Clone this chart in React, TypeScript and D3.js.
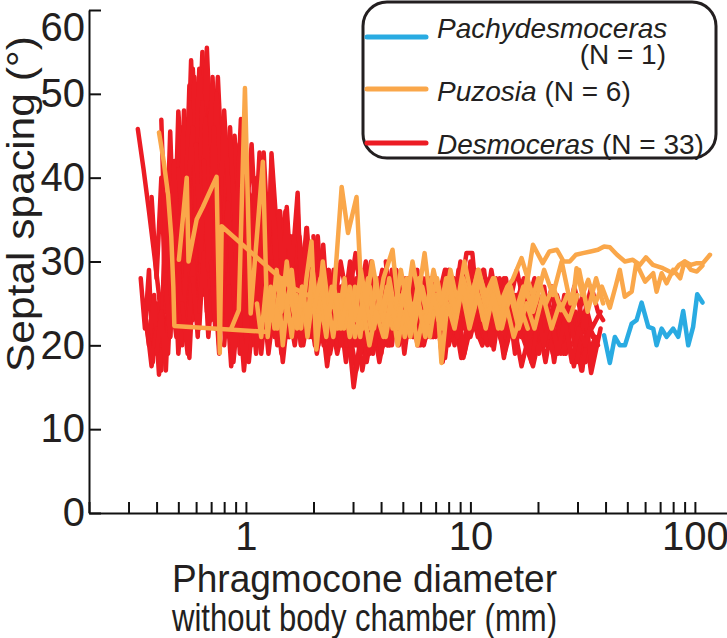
import React, { useEffect, useRef } from "react";
import * as d3 from "d3";

// each point: [phragmocone diameter (mm), septal spacing (deg)]
type Pt = [number, number];

const BLUE = "#29abe2";
const ORANGE = "#faa74a";
const RED = "#ec1c24";

// --- Pachydesmoceras ---
const pachy01: Pt[] = [
  [39.4, 21.2], [41.8, 17.9], [44.0, 21.0], [46.3, 20.0], [48.8, 20.0], [52.3, 22.6], [55.0, 23.0],
  [57.9, 25.1], [62.0, 22.2], [65.2, 22.0], [67.5, 20.0], [71.1, 22.0], [74.8, 21.0], [80.0, 22.0],
  [84.3, 21.0], [88.7, 24.1], [93.4, 20.0], [98.2, 22.2], [102.4, 26.1], [108.2, 25.1],
];

// --- Puzosia ---
const puz01: Pt[] = [
  [0.41, 45.4], [0.43, 42], [0.45, 38], [0.465, 33], [0.475, 27], [0.48, 22.3], [1.24, 21.6],
  [1.29, 27], [1.34, 22], [1.4, 26], [1.46, 20], [1.53, 25], [1.6, 21], [1.68, 26], [1.76, 22],
  [1.86, 28], [1.96, 32.4], [2.06, 19.5], [2.16, 25], [2.28, 21], [2.41, 27], [2.56, 22], [2.72, 26],
  [2.9, 21], [3.1, 25], [3.32, 22], [3.56, 27], [3.82, 23], [4.1, 28], [4.5, 31.4], [4.8, 24],
  [5.2, 28], [5.6, 22], [6.1, 27], [6.6, 23], [7.1, 26], [7.43, 17.9], [7.9, 25], [8.5, 22],
  [9.2, 27], [10.0, 23], [10.9, 28], [11.8, 24], [12.8, 27], [13.9, 23], [15.1, 26], [16.4, 22],
  [17.8, 25], [19.3, 22], [21.0, 26], [23.0, 22], [25.0, 25], [27.5, 23], [30.0, 26],
];
const puz02: Pt[] = [
  [0.503, 30.2], [0.545, 40], [0.555, 30], [0.603, 35], [0.643, 36.5], [0.74, 40.1], [0.765, 19.1],
  [0.78, 34.2], [1.57, 27], [2.62, 24.2], [2.75, 28], [2.9, 22], [3.06, 27], [3.23, 21], [3.4, 26],
  [3.6, 22], [3.8, 28], [4.0, 23], [4.25, 27], [4.5, 22], [4.8, 26], [5.1, 21], [5.45, 25], [5.8, 20],
  [6.2, 24], [6.6, 21], [7.05, 26], [7.5, 22], [8.0, 27], [8.6, 23], [9.2, 28], [9.9, 24], [10.6, 27],
  [11.4, 23], [12.3, 26], [13.3, 22], [14.4, 25], [15.6, 21], [17.0, 24], [18.0, 22],
];
const puz03: Pt[] = [
  [0.86, 22], [0.93, 24.2], [0.99, 50.7], [1.05, 23.8], [1.19, 41.9], [1.25, 21], [1.31, 26],
  [1.38, 22], [1.45, 28], [1.52, 24], [1.6, 29], [1.69, 23], [1.78, 27], [1.88, 21], [1.99, 26],
  [2.1, 23], [2.22, 28], [2.35, 24], [2.48, 27], [2.67, 38.9], [2.85, 33.4], [3.11, 37.7], [3.3, 24],
  [3.5, 28], [3.72, 22], [3.95, 26], [4.2, 21], [4.46, 25], [4.74, 20], [5.05, 24], [5.4, 21],
  [5.8, 26], [6.2, 22], [6.7, 27], [7.2, 23], [7.8, 28], [8.4, 24], [9.1, 27], [9.9, 22], [10.8, 26],
  [11.7, 23], [12.7, 27], [13.8, 22], [15.0, 26], [16.3, 23], [17.7, 27], [19.0, 24], [20.0, 26],
];
const puz04: Pt[] = [
  [1.12, 25], [1.17, 21], [1.23, 27], [1.3, 23], [1.37, 29], [1.44, 24], [1.52, 30], [1.6, 25],
  [1.69, 22], [1.78, 27], [1.88, 23], [1.98, 29], [2.09, 24], [2.2, 30], [2.32, 25], [2.45, 21],
  [2.59, 26], [2.74, 22], [2.9, 27], [3.07, 23], [3.25, 29], [3.44, 25], [3.65, 30], [3.87, 26],
  [4.1, 23], [4.35, 28], [4.62, 24], [4.9, 29], [5.2, 25], [5.52, 30], [5.87, 26], [6.25, 31],
  [6.65, 25], [7.1, 28], [7.6, 24], [8.15, 29], [8.75, 25], [9.4, 30], [10.1, 26], [10.9, 29],
  [11.8, 25], [12.8, 28], [13.9, 24], [15.1, 27], [16.4, 23], [17.9, 28], [19.5, 25], [21.3, 29],
  [23.3, 26], [25.5, 30], [27.9, 25], [30.5, 29], [33.3, 24], [36.3, 28], [39.0, 25],
];
const puz05: Pt[] = [
  [4.0, 24], [4.3, 27], [4.65, 23], [5.0, 26], [5.4, 22], [5.85, 25], [6.3, 21], [6.8, 26],
  [7.35, 23], [7.95, 27], [8.6, 24], [9.3, 28], [10.0, 25], [10.8, 29], [11.7, 26], [12.6, 28],
  [13.6, 25], [14.6, 27], [15.4, 27.8], [16.9, 30.4], [18.0, 28], [19.0, 32], [21.0, 29.8],
  [22.5, 31.2], [24.3, 31.4], [26.0, 30], [27.7, 30], [29.5, 30.8], [31.7, 31], [34.3, 31.2],
  [37.0, 31.4], [39.4, 31.8], [41.8, 31.7], [45.0, 30.8], [48.8, 30], [52.9, 30.2], [56.9, 29.6],
  [60.5, 30.5], [65.0, 29.6], [72.0, 29.2], [79.8, 28.6], [85.0, 29.6], [90.2, 30], [96.0, 29.6],
  [102, 29.8], [108.6, 29.8], [116.7, 30.8],
];
const puz06: Pt[] = [
  [2.0, 24], [2.15, 28], [2.3, 23], [2.47, 27], [2.65, 22], [2.85, 26], [3.06, 21], [3.3, 25],
  [3.55, 20], [3.8, 24], [4.1, 21], [4.4, 25], [4.73, 22], [5.1, 27], [5.5, 23], [5.9, 28],
  [6.35, 24], [6.85, 29], [7.4, 25], [8.0, 28], [8.6, 24], [9.3, 27], [10.0, 23], [10.8, 26],
  [11.7, 22], [12.6, 26], [13.6, 23], [14.7, 27], [15.9, 24], [17.2, 27], [18.6, 25], [20.1, 28],
  [21.7, 25], [23.4, 27], [25.3, 24.2], [27.0, 26], [28.5, 25], [29.7, 29.2], [31.5, 26],
  [33.5, 27.8], [36.0, 25], [38.5, 27], [41.8, 24.5], [44.5, 27.2], [46.3, 29], [48.7, 25.8],
  [52.3, 26.4], [54.8, 29.8], [60.0, 27.6], [65.2, 28.6], [67.5, 26.4], [71.1, 28.6], [74.8, 27.4],
  [80.0, 29], [86.0, 28], [90.0, 30], [96.0, 29], [102, 28.8], [108, 29.5],
];

// --- Desmoceras ---
const des01: Pt[] = [
  [0.33, 45.8], [0.35, 41], [0.37, 36], [0.39, 31], [0.41, 26], [0.43, 19], [0.46, 27], [0.49, 21],
  [0.52, 34], [0.55, 24], [0.58, 42], [0.62, 27], [0.66, 38], [0.7, 23], [0.74, 33], [0.79, 22],
  [0.84, 30], [0.9, 21], [0.96, 29], [1.02, 23], [1.09, 31], [1.16, 24], [1.24, 28], [1.33, 22],
  [1.42, 27], [1.52, 23], [1.62, 26], [1.7, 22],
];
const des02: Pt[] = [
  [0.34, 28], [0.355, 22], [0.37, 29], [0.385, 18], [0.4, 25], [0.42, 17], [0.44, 30], [0.46, 21],
  [0.49, 39], [0.52, 26], [0.55, 47], [0.58, 31], [0.61, 50], [0.64, 35], [0.67, 46], [0.71, 30],
  [0.75, 41], [0.79, 26], [0.84, 36], [0.9, 24],
];
const des03: Pt[] = [
  [0.35, 25], [0.37, 20], [0.39, 26], [0.41, 16.5], [0.43, 23], [0.45, 19], [0.48, 35], [0.51, 24],
  [0.54, 44], [0.57, 28], [0.6, 48], [0.63, 33], [0.67, 52], [0.71, 36], [0.75, 45], [0.8, 29],
  [0.85, 40], [0.9, 26], [0.95, 37], [1.01, 24], [1.07, 34], [1.14, 23], [1.21, 32], [1.29, 22],
  [1.37, 30], [1.46, 21], [1.56, 28], [1.67, 22], [1.79, 27], [1.92, 21], [2.06, 26], [2.22, 20],
  [2.4, 25],
];
const des04: Pt[] = [
  [0.36, 23], [0.38, 17.5], [0.4, 22], [0.42, 20], [0.44, 38], [0.47, 26], [0.5, 44], [0.53, 30],
  [0.56, 51], [0.6, 36], [0.64, 55], [0.68, 38], [0.72, 47], [0.76, 31], [0.81, 43], [0.86, 28],
  [0.92, 38], [0.98, 25], [1.04, 35], [1.11, 26], [1.18, 33], [1.26, 24], [1.35, 31], [1.44, 23],
  [1.54, 30], [1.65, 24], [1.78, 28], [1.92, 22], [2.08, 27], [2.25, 21], [2.45, 26], [2.7, 20],
  [2.95, 25], [3.25, 19], [3.6, 24], [4.0, 21], [4.5, 25],
];
const des05: Pt[] = [
  [0.38, 37.7], [0.4, 28], [0.42, 40], [0.44, 24], [0.46, 38], [0.49, 27], [0.52, 46], [0.55, 30],
  [0.58, 53], [0.62, 37], [0.66, 49], [0.7, 34], [0.74, 44], [0.79, 30], [0.84, 41], [0.89, 27],
  [0.95, 36], [1.01, 25], [1.08, 34], [1.15, 24], [1.2, 30],
];
const des06: Pt[] = [
  [0.4, 19], [0.42, 24], [0.44, 17], [0.46, 29], [0.49, 22], [0.52, 37], [0.55, 25], [0.58, 45],
  [0.61, 29], [0.65, 50], [0.69, 32], [0.73, 42], [0.78, 27], [0.83, 39], [0.88, 25], [0.94, 34],
  [1.0, 22], [1.07, 30], [1.14, 21], [1.22, 28], [1.31, 23], [1.41, 29], [1.52, 22], [1.64, 27],
  [1.77, 21], [1.92, 25], [2.1, 20], [2.3, 26], [2.55, 19], [2.8, 24], [3.1, 17], [3.45, 23],
  [3.85, 20], [4.3, 26], [4.8, 21], [5.4, 25], [6.0, 20], [6.8, 24], [7.6, 21], [8.0, 23],
];
const des07: Pt[] = [
  [0.42, 46.9], [0.44, 29], [0.46, 45.5], [0.48, 31], [0.5, 47.9], [0.54, 34], [0.57, 54], [0.6, 38],
  [0.63, 47], [0.67, 33], [0.71, 50], [0.75, 35], [0.8, 44], [0.85, 30], [0.9, 40], [0.96, 28],
  [1.02, 37], [1.09, 27], [1.16, 35], [1.24, 26], [1.32, 33], [1.41, 25], [1.51, 31], [1.62, 24],
  [1.74, 29], [1.87, 23], [2.01, 28], [2.17, 22], [2.35, 27], [2.55, 21], [2.77, 26], [3.0, 22],
];
const des08: Pt[] = [
  [0.44, 27], [0.46, 21], [0.48, 30], [0.5, 19], [0.53, 28], [0.56, 18.5], [0.59, 31], [0.62, 22],
  [0.66, 36], [0.7, 24], [0.74, 39], [0.78, 26], [0.83, 37], [0.88, 23], [0.93, 33], [0.99, 21],
  [1.05, 31], [1.12, 22], [1.19, 29], [1.27, 21], [1.36, 27], [1.46, 18], [1.57, 26], [1.69, 22],
  [1.82, 28], [1.96, 21], [2.12, 26], [2.3, 17.5], [2.5, 25], [2.72, 20], [2.97, 27], [3.25, 21],
  [3.57, 25], [3.93, 18], [4.33, 24], [4.78, 21], [5.3, 26], [5.9, 20], [6.6, 24], [7.4, 21],
  [8.3, 25], [9.3, 18.5], [10.4, 24], [11.6, 21], [12.9, 25], [14.0, 22],
];
const des09: Pt[] = [
  [0.46, 33], [0.48, 42], [0.5, 27], [0.53, 48], [0.56, 33], [0.59, 52], [0.63, 36], [0.67, 55.5],
  [0.71, 39], [0.75, 52], [0.8, 36], [0.85, 46], [0.9, 31], [0.96, 42], [1.02, 29], [1.09, 39],
  [1.16, 28], [1.24, 36], [1.33, 27], [1.42, 33], [1.52, 26], [1.6, 30],
];
const des10: Pt[] = [
  [0.48, 23], [0.5, 30], [0.52, 20], [0.55, 34], [0.58, 23], [0.61, 40], [0.64, 26], [0.68, 44],
  [0.72, 29], [0.76, 41], [0.81, 27], [0.86, 38], [0.91, 24], [0.97, 35], [1.03, 23], [1.1, 33],
  [1.17, 21], [1.25, 31], [1.34, 22], [1.43, 30], [1.53, 21], [1.64, 28], [1.76, 20], [1.89, 27],
  [2.03, 21], [2.19, 28], [2.37, 20], [2.57, 26], [2.79, 18], [3.03, 25], [3.3, 20], [3.6, 27],
  [3.95, 21], [4.35, 26], [4.8, 20], [5.3, 25], [6.0, 22],
];
const des11: Pt[] = [
  [0.5, 41], [0.53, 33], [0.56, 49], [0.59, 37], [0.62, 53], [0.66, 40], [0.7, 49], [0.74, 35],
  [0.79, 46], [0.84, 33], [0.89, 43], [0.95, 31], [1.01, 40], [1.08, 30], [1.15, 38], [1.23, 29],
  [1.31, 36], [1.4, 28], [1.5, 34], [1.6, 27], [1.72, 32], [1.85, 25], [2.0, 30], [2.17, 24],
  [2.36, 28], [2.57, 22], [2.8, 27], [3.05, 21], [3.35, 26], [3.7, 22], [4.1, 27], [4.55, 21],
  [5.05, 26], [5.6, 22], [6.25, 27], [7.0, 21], [7.8, 26], [8.7, 22], [9.7, 27], [10.8, 21],
  [12.0, 26], [13.4, 22], [15.0, 27], [16.8, 21], [18.8, 25], [20.5, 22], [22.0, 24],
];
const des12: Pt[] = [
  [0.52, 25], [0.55, 19], [0.58, 30], [0.61, 21], [0.64, 35], [0.68, 24], [0.72, 31], [0.76, 20],
  [0.81, 28], [0.86, 17.5], [0.92, 26], [0.98, 20], [1.04, 29], [1.11, 19], [1.18, 27], [1.26, 20],
  [1.35, 26], [1.44, 19], [1.54, 25], [1.65, 20], [1.77, 26], [1.9, 21], [2.0, 24],
];
const des13: Pt[] = [
  [0.55, 38], [0.58, 46], [0.61, 32], [0.64, 49], [0.67, 34], [0.71, 52], [0.75, 37], [0.79, 47],
  [0.84, 33], [0.89, 45], [0.95, 32], [1.01, 41], [1.08, 29], [1.15, 43], [1.23, 30], [1.31, 38],
  [1.4, 28], [1.5, 36], [1.61, 27], [1.73, 33], [1.86, 26], [2.0, 31], [2.16, 24], [2.34, 29],
  [2.54, 23], [2.76, 28], [3.0, 22], [3.27, 27], [3.57, 21], [3.9, 26], [4.27, 22], [4.68, 27],
  [5.13, 23], [5.63, 28], [6.2, 22], [6.85, 27], [7.55, 23], [8.35, 28], [9.2, 22], [10.1, 26],
  [11.0, 23],
];
const des14: Pt[] = [
  [0.58, 28], [0.61, 22], [0.64, 33], [0.67, 24], [0.71, 37], [0.75, 25], [0.79, 32], [0.84, 21],
  [0.89, 30], [0.94, 19], [1.0, 27], [1.06, 20], [1.13, 29], [1.2, 22], [1.28, 31], [1.37, 23],
  [1.46, 29], [1.56, 21], [1.67, 27], [1.8, 22], [1.94, 29], [2.09, 23], [2.26, 27], [2.45, 21],
  [2.66, 26], [2.9, 20], [3.16, 25], [3.45, 18], [3.77, 24], [4.13, 20], [4.53, 25], [4.98, 21],
  [5.48, 26], [6.05, 22], [6.7, 27], [7.4, 21], [8.2, 26], [9.1, 18.5], [10.1, 25], [11.2, 21],
  [12.5, 27], [14.0, 22], [15.6, 26], [17.4, 21], [19.4, 25], [21.6, 18], [24.0, 25], [26.7, 21],
  [28.5, 24], [30.0, 22],
];
const des15: Pt[] = [
  [0.6, 44], [0.63, 30], [0.66, 47], [0.7, 33], [0.74, 50], [0.78, 34], [0.82, 44], [0.87, 29],
  [0.92, 41], [0.98, 27], [1.04, 38], [1.1, 26], [1.17, 36], [1.25, 25], [1.33, 34], [1.42, 26],
  [1.51, 32], [1.61, 24], [1.72, 30], [1.84, 23], [1.97, 29], [2.12, 22], [2.28, 27], [2.46, 21],
  [2.66, 26], [2.88, 20], [3.12, 25], [3.4, 21], [3.7, 24], [4.0, 22],
];
const des16: Pt[] = [
  [0.62, 24], [0.65, 31], [0.68, 21], [0.72, 29], [0.76, 19], [0.8, 32], [0.85, 22], [0.9, 35],
  [0.95, 24], [1.01, 33], [1.07, 22], [1.14, 30], [1.21, 21], [1.29, 28], [1.38, 20], [1.47, 27],
  [1.57, 21], [1.68, 26], [1.8, 20], [1.93, 25], [2.07, 19], [2.23, 25], [2.41, 20], [2.61, 26],
  [2.83, 21], [3.07, 27], [3.34, 22], [3.64, 28], [3.97, 23], [4.34, 27], [4.75, 22], [5.2, 26],
  [5.7, 21], [6.3, 26], [6.95, 22], [7.7, 28], [8.5, 23], [9.4, 27], [10.4, 22], [11.5, 26],
  [12.7, 21], [14.0, 25], [15.5, 21], [17.0, 24],
];
const des17: Pt[] = [
  [0.65, 42], [0.68, 29], [0.72, 46], [0.76, 32], [0.8, 48], [0.85, 35], [0.9, 44], [0.95, 31],
  [1.0, 42], [1.06, 30], [1.12, 40], [1.19, 29], [1.27, 38], [1.35, 28], [1.44, 35], [1.53, 27],
  [1.63, 33], [1.74, 26], [1.85, 30], [1.9, 27],
];
const des18: Pt[] = [
  [0.7, 30], [0.73, 22], [0.77, 34], [0.81, 24], [0.86, 31], [0.91, 20], [0.97, 28], [1.03, 18],
  [1.1, 26], [1.17, 19], [1.25, 27], [1.34, 21], [1.43, 28], [1.53, 22], [1.64, 27], [1.76, 21],
  [1.89, 26], [2.03, 20], [2.19, 25], [2.37, 19], [2.57, 24], [2.79, 20], [3.03, 24], [3.3, 17],
  [3.6, 23], [3.93, 20], [4.3, 25], [4.7, 21], [5.15, 26], [5.65, 22], [6.2, 27], [6.8, 21],
  [7.5, 26], [8.3, 22], [9.2, 27], [10.2, 23], [11.3, 28], [12.5, 23], [13.9, 27], [15.4, 22],
  [17.1, 26], [19.0, 21], [21.1, 25], [23.4, 20], [26.0, 24], [28.9, 17.5], [32.1, 23], [34.5, 16.7],
  [38.0, 22],
];
const des19: Pt[] = [
  [0.75, 40], [0.79, 28], [0.83, 37], [0.88, 26], [0.93, 36], [0.99, 25], [1.05, 35], [1.12, 25],
  [1.19, 33], [1.27, 24], [1.36, 32], [1.45, 25], [1.55, 31], [1.66, 24], [1.78, 29], [1.91, 23],
  [2.05, 28], [2.21, 22], [2.39, 27], [2.59, 21], [2.81, 26], [3.05, 20], [3.32, 25], [3.62, 21],
  [3.95, 26], [4.32, 20], [4.73, 25], [5.18, 21], [5.68, 26], [6.25, 22], [6.9, 27], [7.6, 23],
  [8.3, 26], [9.0, 23],
];
const des20: Pt[] = [
  [0.8, 20], [0.84, 27], [0.88, 18], [0.93, 25], [0.98, 17], [1.04, 24], [1.1, 20], [1.17, 27],
  [1.25, 21], [1.33, 28], [1.42, 22], [1.52, 29], [1.63, 23], [1.75, 28], [1.88, 22], [2.02, 27],
  [2.18, 21], [2.36, 26], [2.56, 20], [2.78, 25], [3.02, 15], [3.28, 22], [3.57, 19], [3.9, 24],
  [4.27, 20], [4.68, 25], [5.13, 21], [5.63, 24], [6.2, 20], [6.85, 25], [7.55, 21], [8.35, 24],
  [9.25, 19], [10.2, 23], [11.3, 20], [12.5, 24], [13.9, 20], [15.4, 25], [17.1, 21], [19.0, 17.5],
  [21.1, 23], [23.5, 20], [26.0, 22],
];
const des21: Pt[] = [
  [0.85, 45], [0.9, 33], [0.95, 47], [1.0, 34], [1.06, 44], [1.12, 31], [1.19, 40], [1.26, 29],
  [1.3, 42.9], [1.42, 28], [1.51, 36], [1.6, 27], [1.7, 33], [1.81, 26], [1.93, 31], [2.06, 25],
  [2.2, 29], [2.35, 23], [2.52, 28], [2.7, 22], [2.9, 27], [3.12, 21], [3.36, 26], [3.62, 22],
  [3.9, 25], [4.2, 21], [4.55, 24], [5.0, 22],
];
const des22: Pt[] = [
  [0.9, 23], [0.95, 30], [1.0, 21], [1.06, 28], [1.12, 20], [1.19, 26], [1.26, 19], [1.34, 25],
  [1.42, 20], [1.51, 27], [1.61, 21], [1.72, 28], [1.84, 22], [1.97, 29], [2.11, 23], [2.27, 28],
  [2.45, 22], [2.65, 27], [2.87, 23], [3.11, 28], [3.38, 22], [3.68, 27], [4.01, 19], [4.38, 26],
  [4.79, 22], [5.25, 27], [5.76, 23], [6.33, 28], [6.97, 24], [7.7, 29], [8.5, 20], [9.4, 28],
  [10.4, 24], [11.5, 29], [12.7, 19.5], [14.1, 28], [15.6, 24], [17.3, 28], [19.2, 19], [21.3, 27],
  [23.6, 18], [26.2, 26], [29.1, 21], [32.3, 24], [35.0, 21],
];
const des23: Pt[] = [
  [1.0, 37], [1.06, 27], [1.12, 35], [1.19, 26], [1.26, 34], [1.34, 25], [1.42, 32], [1.51, 24],
  [1.61, 30], [1.72, 23], [1.84, 29], [1.97, 22], [2.11, 28], [2.27, 21], [2.45, 27], [2.65, 20],
  [2.87, 26], [3.11, 20], [3.38, 25], [3.68, 19], [4.01, 24], [4.38, 20], [4.79, 26], [5.25, 21],
  [5.76, 27], [6.33, 22], [6.97, 28], [7.7, 23], [8.5, 27], [9.4, 22], [10.4, 26], [11.5, 21],
  [12.3, 25], [13.0, 22],
];
const des24: Pt[] = [
  [1.1, 24], [1.16, 31], [1.23, 23], [1.3, 30], [1.38, 22], [1.46, 29], [1.55, 21], [1.65, 27],
  [1.76, 20], [1.88, 26], [2.01, 21], [2.15, 27], [2.31, 22], [2.49, 28], [2.69, 23], [2.91, 30],
  [3.15, 24], [3.42, 30], [3.72, 24], [4.05, 29], [4.42, 23], [4.83, 28], [5.29, 22], [5.8, 27],
  [6.37, 21], [7.0, 26], [7.7, 22], [8.5, 27], [9.4, 19], [10.4, 26], [11.5, 22], [12.7, 27],
  [14.1, 18.5], [15.6, 26], [17.3, 22], [19.2, 27], [21.3, 21], [23.6, 25], [26.2, 20], [29.1, 24],
  [31.5, 17], [33.0, 22],
];
const des25: Pt[] = [
  [1.2, 43], [1.26, 32], [1.3, 42], [1.36, 29], [1.42, 36], [1.5, 27], [1.58, 33], [1.67, 25],
  [1.77, 31], [1.88, 24], [2.0, 30], [2.13, 23], [2.28, 29], [2.45, 24], [2.64, 30], [2.85, 25],
  [3.08, 31], [3.33, 24], [3.61, 30], [3.92, 23], [4.26, 28], [4.64, 22], [5.06, 27], [5.53, 21],
  [6.05, 26], [6.63, 21], [7.28, 25], [8.0, 20], [8.8, 24], [9.6, 31], [10.2, 31], [10.7, 25],
  [11.8, 22], [13.0, 26], [14.3, 21], [15.8, 25], [17.4, 21], [19.0, 24], [20.0, 22],
];
const des26: Pt[] = [
  [1.4, 36], [1.46, 27], [1.52, 36.5], [1.59, 28], [1.7, 38.2], [1.76, 26], [1.86, 34], [1.97, 24],
  [2.09, 33], [2.22, 23], [2.37, 28], [2.54, 22], [2.73, 27], [2.94, 21], [3.17, 26], [3.42, 20],
  [3.7, 25], [4.0, 21], [4.34, 26], [4.72, 22], [5.14, 27], [5.6, 23], [6.12, 28], [6.7, 22],
  [7.35, 27], [8.07, 21], [8.87, 26], [9.76, 21], [10.8, 26], [11.9, 22], [13.1, 27], [14.5, 22],
  [16.0, 26], [17.7, 21], [19.6, 26], [21.7, 20], [24.0, 25], [26.6, 19], [29.4, 24], [32.6, 18],
  [36.0, 21],
];
const des27: Pt[] = [
  [1.7, 36], [1.78, 26], [1.87, 34], [1.97, 24], [2.08, 32], [2.2, 22], [2.33, 28], [2.48, 21],
  [2.64, 26], [2.82, 20], [3.02, 25], [3.24, 19], [3.48, 24], [3.75, 20], [4.05, 25], [4.38, 21],
  [4.75, 26], [5.16, 22], [5.62, 27], [6.13, 23], [6.7, 28], [7.33, 24], [8.03, 29], [8.81, 24],
  [9.67, 28], [10.6, 23], [11.7, 27], [12.9, 22], [14.2, 26], [15.7, 21], [17.3, 25], [19.1, 20],
  [21.1, 24], [23.3, 19], [25.7, 23], [28.0, 20],
];
const des28: Pt[] = [
  [2.0, 33], [2.1, 24], [2.21, 32], [2.33, 23], [2.46, 29], [2.6, 22], [2.76, 28], [2.93, 21],
  [3.12, 27], [3.33, 20], [3.56, 26], [3.81, 21], [4.09, 27], [4.4, 22], [4.74, 28], [5.12, 23],
  [5.54, 29], [6.0, 24], [6.51, 28], [7.08, 23], [7.71, 27], [8.4, 22], [9.17, 26], [10.0, 21],
  [10.9, 25], [11.9, 20], [13.0, 24], [14.2, 19], [15.5, 23], [16.9, 17.5], [18.5, 22], [20.2, 19],
  [22.1, 24], [24.2, 20], [26.5, 25], [29.0, 21], [31.7, 26], [34.7, 22], [38.0, 24],
];
const des29: Pt[] = [
  [2.5, 29], [2.63, 22], [2.77, 27], [2.92, 20], [3.08, 26], [3.26, 21], [3.46, 27], [3.68, 22],
  [3.92, 28], [4.18, 23], [4.47, 29], [4.79, 24], [5.14, 28], [5.53, 22], [5.96, 27], [6.43, 21],
  [6.95, 26], [7.52, 18], [8.15, 25], [8.85, 21], [9.62, 26], [10.5, 22], [11.4, 27], [12.4, 20],
  [13.5, 28], [14.7, 24], [16.1, 29], [17.6, 24], [19.3, 28], [21.1, 23], [23.1, 27], [25.3, 19],
  [27.7, 26], [30.3, 21], [32.0, 23],
];
const des30: Pt[] = [
  [3.2, 24], [3.37, 29], [3.55, 22], [3.75, 28], [3.97, 21], [4.21, 27], [4.47, 20], [4.76, 26],
  [5.08, 19], [5.43, 25], [5.82, 20], [6.25, 26], [6.72, 21], [7.24, 27], [7.81, 22], [8.44, 28],
  [9.14, 23], [9.91, 29], [10.8, 24], [11.7, 28], [12.8, 23], [13.9, 27], [15.2, 22], [16.6, 26],
  [18.1, 21], [19.8, 25], [21.7, 20], [23.8, 24], [26.0, 19], [28.5, 23], [31.2, 17], [34.1, 22],
  [37.0, 20],
];
const des31: Pt[] = [
  [4.2, 30], [4.43, 23], [4.68, 29], [4.96, 22], [5.26, 28], [5.59, 21], [5.96, 27], [6.36, 22],
  [6.8, 28], [7.28, 23], [7.81, 29], [8.39, 24], [9.03, 30], [9.73, 24], [10.5, 29], [11.4, 23],
  [12.3, 28], [13.4, 22], [14.5, 27], [15.8, 19], [17.2, 26], [18.7, 18], [20.4, 25], [22.3, 21],
  [24.3, 26], [26.6, 22], [29.0, 27], [31.7, 23], [34.6, 27], [37.0, 24], [39.0, 23],
];
const des32: Pt[] = [
  [5.5, 23], [5.8, 29], [6.12, 22], [6.47, 27], [6.85, 21], [7.26, 26], [7.71, 18.5], [8.2, 25],
  [8.74, 21], [9.33, 27], [9.98, 22], [10.7, 28], [11.5, 23], [12.4, 29], [13.3, 24], [14.4, 28],
  [15.5, 22], [16.8, 27], [18.2, 19], [19.7, 26], [21.4, 22], [23.2, 27], [25.2, 21], [27.4, 25],
  [29.8, 18], [32.4, 24], [34.5, 18], [36.0, 21],
];
const des33: Pt[] = [
  [7.0, 27], [7.4, 22], [7.85, 28], [8.33, 23], [8.85, 29], [9.41, 24], [10.0, 30], [10.7, 25],
  [11.4, 29], [12.2, 24], [13.0, 28], [13.9, 23], [14.9, 27], [16.0, 22], [17.1, 26], [18.4, 21],
  [19.7, 25], [21.2, 20], [22.8, 24], [24.5, 19], [26.3, 23], [28.3, 18], [30.4, 22], [32.5, 20],
  [34.0, 22],
];

const pachydesmoceras = [pachy01];
const puzosia = [puz01, puz02, puz03, puz04, puz05, puz06];
const desmoceras = [
  des01, des02, des03, des04, des05, des06, des07, des08, des09, des10, des11,
  des12, des13, des14, des15, des16, des17, des18, des19, des20, des21, des22,
  des23, des24, des25, des26, des27, des28, des29, des30, des31, des32, des33,
];

const yTicks = [0, 10, 20, 30, 40, 50, 60];
const xTicks = [
  0.2, 0.3, 0.4, 0.5, 0.6, 0.7, 0.8, 0.9, 1, 2, 3, 4, 5, 6, 7, 8, 9, 10,
  20, 30, 40, 50, 60, 70, 80, 90, 100,
];
const xLabelled = [1, 10, 100];

const W = 727;
const H = 638;
const FONT = "'Liberation Sans', Arial, Helvetica, sans-serif";
const INK = "#231f20";

const x = d3.scaleLog().domain([0.2, 140]).range([89, 727.7]);
const y = d3.scaleLinear().domain([0, 60]).range([513, 10]);

const line = d3
  .line<Pt>()
  .x(d => x(d[0]))
  .y(d => y(d[1]));

const Series = ({ data, color }: { data: Pt[][]; color: string }) => (
  <g fill="none" stroke={color} strokeWidth={4.5} strokeLinejoin="round" strokeLinecap="round">
    {data.map((s, i) => (
      <path key={i} d={line(s) || ""} />
    ))}
  </g>
);

export default function App() {
  const xAxisRef = useRef<SVGGElement>(null);
  const yAxisRef = useRef<SVGGElement>(null);

  useEffect(() => {
    const gx = d3.select(xAxisRef.current);
    gx.call(
      d3
        .axisBottom(x)
        .tickValues(xTicks)
        .tickSizeInner(-11)
        .tickSizeOuter(0)
        .tickPadding(9)
        .tickFormat(d => (xLabelled.includes(+d) ? String(d) : ""))
    );
    const gy = d3.select(yAxisRef.current);
    gy.call(
      d3.axisLeft(y).tickValues(yTicks).tickSizeInner(-12).tickSizeOuter(0).tickPadding(4)
    );
    [gx, gy].forEach(g => {
      g.attr("font-family", FONT).attr("font-size", 40);
      g.select(".domain").attr("stroke", "#111").attr("stroke-width", 2);
      g.selectAll(".tick line").attr("stroke", "#111").attr("stroke-width", 2);
      g.selectAll(".tick text").attr("fill", INK);
    });
    // the top label sits a little lower so it stays inside the frame
    gy.selectAll<SVGTextElement, number>(".tick text")
      .filter(d => d === 60)
      .attr("y", 18);
  }, []);

  return (
    <svg
      width={W}
      height={H}
      style={{ position: "absolute", left: 0, top: 0, background: "#fff" }}
      fontFamily={FONT}
    >
      <Series data={desmoceras} color={RED} />
      <Series data={puzosia} color={ORANGE} />
      <Series data={pachydesmoceras} color={BLUE} />

      <g ref={xAxisRef} transform={`translate(0,${y(0)})`} />
      <g ref={yAxisRef} transform={`translate(${x(0.2)},0)`} />

      <text
        transform="translate(34,204) rotate(-90)"
        textAnchor="middle"
        fontSize={39}
        textLength={336}
        lengthAdjust="spacingAndGlyphs"
        fill={INK}
      >
        Septal spacing (°)
      </text>
      <text x={172} y={592} fontSize={38} textLength={385} lengthAdjust="spacingAndGlyphs" fill={INK}>
        Phragmocone diameter
      </text>
      <text x={172} y={631} fontSize={38} textLength={385} lengthAdjust="spacingAndGlyphs" fill={INK}>
        without body chamber (mm)
      </text>

      {/* legend */}
      <rect x={363} y={2} width={353} height={156} rx={24} fill="#fff" stroke={INK} strokeWidth={3} />
      <g strokeWidth={5} strokeLinecap="round">
        <line x1={367} x2={426} y1={37} y2={37} stroke={BLUE} />
        <line x1={367} x2={426} y1={89} y2={89} stroke={ORANGE} />
        <line x1={367} x2={426} y1={143} y2={143} stroke={RED} />
      </g>
      <g fontSize={28} fill={INK}>
        <text x={437} y={38} fontStyle="italic">Pachydesmoceras</text>
        <text x={666} y={64} textAnchor="end">(N = 1)</text>
        <text x={437} y={101}>
          <tspan fontStyle="italic">Puzosia</tspan> (N = 6)
        </text>
        <text x={437} y={154}>
          <tspan fontStyle="italic">Desmoceras</tspan> (N = 33)
        </text>
      </g>
    </svg>
  );
}
